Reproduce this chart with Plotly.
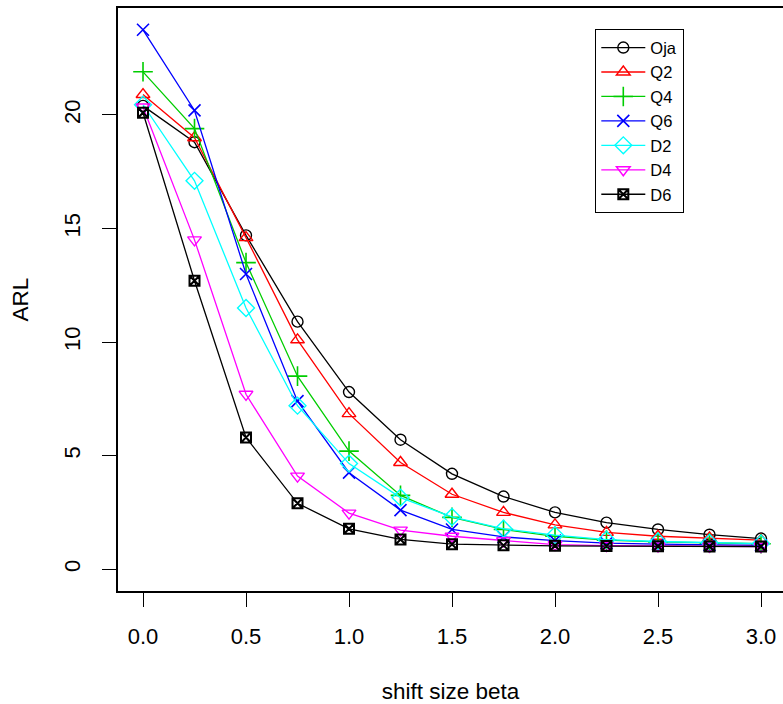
import plotly.graph_objects as go

beta = [0.0, 0.25, 0.5, 0.75, 1.0, 1.25, 1.5, 1.75, 2.0, 2.25, 2.5, 2.75, 3.0]

oja = [20.4, 18.8, 14.7, 10.9, 7.8, 5.7, 4.2, 3.2, 2.5, 2.05, 1.75, 1.52, 1.35]
q2 = [20.9, 19.0, 14.6, 10.1, 6.85, 4.7, 3.3, 2.5, 1.95, 1.62, 1.45, 1.38, 1.28]
q4 = [21.9, 19.4, 13.5, 8.5, 5.2, 3.25, 2.28, 1.75, 1.45, 1.28, 1.2, 1.15, 1.12]
q6 = [23.75, 20.2, 13.0, 7.4, 4.25, 2.6, 1.75, 1.42, 1.26, 1.15, 1.1, 1.07, 1.05]
d2 = [20.45, 17.1, 11.5, 7.2, 4.65, 3.15, 2.3, 1.78, 1.5, 1.3, 1.22, 1.16, 1.13]
d4 = [20.35, 14.5, 7.7, 4.1, 2.47, 1.72, 1.45, 1.25, 1.08, 1.04, 1.02, 1.01, 1.0]
d6 = [20.1, 12.7, 5.8, 2.9, 1.78, 1.31, 1.1, 1.05, 1.03, 1.02, 1.01, 1.0, 1.0]

names = ["Oja", "Q2", "Q4", "Q6", "D2", "D4", "D6"]
series = [oja, q2, q4, q6, d2, d4, d6]
colors = ["#000000", "#FF0000", "#00CD00", "#0000FF", "#00FFFF", "#FF00FF", "#000000"]
symbols = ["circle-open", "triangle-up-open", "cross-thin-open", "x-thin-open",
           "diamond-open", "triangle-down-open", "square-x-open"]
sizes = [11, 12, 14, 12, 13, 12, 10]
mlw = [1.4, 1.4, 1.6, 1.6, 1.4, 1.4, 2.0]

x_ticks = [0.0, 0.5, 1.0, 1.5, 2.0, 2.5, 3.0]
x_ticklabels = ["0.0", "0.5", "1.0", "1.5", "2.0", "2.5", "3.0"]
y_ticks = [0, 5, 10, 15, 20]

FONT = "Liberation Sans, Arial, sans-serif"

fig = go.Figure()
for name, vals, col, sym, sz, lw in zip(names, series, colors, symbols, sizes, mlw):
    fig.add_trace(go.Scatter(
        x=beta, y=vals, name=name, mode="lines+markers",
        line=dict(color=col, width=1.3),
        marker=dict(symbol=sym, size=sz, color=col, line=dict(color=col, width=lw)),
    ))

fig.update_layout(
    width=783, height=704,
    margin=dict(l=118, r=0, t=8, b=113),
    paper_bgcolor="white", plot_bgcolor="white",
    font=dict(family=FONT, size=22, color="black"),
    showlegend=True,
    legend=dict(
        x=(595 - 118) / 665, y=(591 - 29) / 583, xanchor="left", yanchor="top",
        bordercolor="black", borderwidth=1.3, bgcolor="white",
        font=dict(family=FONT, size=16.5, color="black"),
        tracegroupgap=0, itemwidth=44,
    ),
    xaxis=dict(
        range=[-0.1214, 3.1068], tickvals=x_ticks, ticktext=x_ticklabels,
        showgrid=False, zeroline=False, showline=True, linecolor="black", linewidth=1.5,
        mirror=True, ticks="outside", ticklen=14, tickwidth=1.3, tickcolor="black",
        ticklabelstandoff=11,
        title=dict(text="shift size beta", standoff=37, font=dict(size=22.5)),
    ),
    yaxis=dict(
        range=[-0.96, 24.71], tickvals=y_ticks,
        showgrid=False, zeroline=False, showline=True, linecolor="black", linewidth=1.5,
        mirror=False, ticks="outside", ticklen=14, tickwidth=1.3, tickcolor="black",
        tickangle=-90, ticklabelstandoff=13,
        title=dict(text="ARL", standoff=26, font=dict(size=22.5)),
    ),
)

fig.write_html("out.html")
